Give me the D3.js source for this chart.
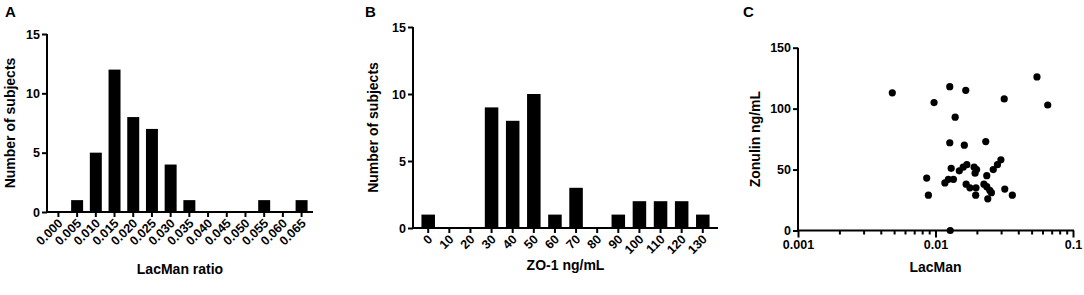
<!DOCTYPE html>
<html>
<head>
<meta charset="utf-8">
<script src="https://cdn.jsdelivr.net/npm/d3@7"></script>
<style>
  html, body { margin: 0; padding: 0; background: #fff; }
  svg { display: block; font-family: "Liberation Sans", Arial, sans-serif; font-weight: bold; }
</style>
</head>
<body>
<svg id="chart" width="1084" height="295"></svg>
<script>
/* Histograms (A, B) + log-x scatter (C) */

// A — LacMan ratio histogram
const lacBins   = ['0.000','0.005','0.010','0.015','0.020','0.025','0.030','0.035','0.040','0.045','0.050','0.055','0.060','0.065'];
const lacCounts = [0, 1, 5, 12, 8, 7, 4, 1, 0, 0, 0, 1, 0, 1];

// B — ZO-1 histogram
const zoBins   = ['0','10','20','30','40','50','60','70','80','90','100','110','120','130'];
const zoCounts = [1, 0, 0, 9, 8, 10, 1, 3, 0, 1, 2, 2, 2, 1];

const countTicks = [0, 5, 10, 15];

// C — LacMan vs zonulin
const scLac = [0.00485, 0.0127, 0.0166, 0.00976, 0.0139, 0.0547, 0.0316, 0.0655,
               0.0127, 0.0162, 0.0232, 0.0299, 0.0282, 0.0263, 0.0236, 0.0130,
               0.0169, 0.0159, 0.0149, 0.0191, 0.0199, 0.0194, 0.00863, 0.00888,
               0.0135, 0.0124, 0.0117, 0.0167, 0.0178, 0.0197, 0.0196, 0.0225,
               0.0236, 0.0248, 0.0255, 0.0240, 0.0319, 0.0362, 0.0128];
const scZon = [113, 118, 115, 105, 93, 126, 108, 103,
               72, 70, 73, 58, 54, 50, 45, 51,
               54, 52, 49, 52, 50, 47, 43, 29,
               42, 42, 39, 38, 35, 35, 29, 38,
               36, 33, 31, 26, 34, 29, 0];
const zonTicks = [0, 50, 100, 150];
const lacLogMajor = [0.001, 0.01, 0.1];

const svg = d3.select('#chart');
const AX_W = 2;
const TICK_FS = 12.5;

function styleAxis(g) {
  g.select('.domain').attr('stroke', '#000').attr('stroke-width', AX_W);
  g.selectAll('.tick line').attr('stroke', '#000').attr('stroke-width', AX_W);
  g.selectAll('.tick text').attr('font-size', TICK_FS).attr('font-weight', 'bold')
    .attr('font-family', '"Liberation Sans", Arial, sans-serif').attr('fill', '#000');
}

function histogram(opt) {
  const x = d3.scaleBand().domain(opt.bins).range([opt.x0, opt.x1])
    .paddingInner(0.36).paddingOuter(opt.padOuter);
  const y = d3.scaleLinear().domain([0, 15]).range([opt.y0, opt.y1]);

  // bars
  svg.append('g').selectAll('rect').data(opt.counts).join('rect')
    .attr('x', (d, i) => x(opt.bins[i]))
    .attr('width', x.bandwidth())
    .attr('y', d => y(d))
    .attr('height', d => opt.y0 - y(d))
    .attr('fill', '#000');

  // x axis
  const gx = svg.append('g').attr('transform', `translate(0,${opt.y0})`)
    .call(d3.axisBottom(x).tickSize(5).tickSizeOuter(0));
  styleAxis(gx);
  gx.select('.domain').attr('d', `M${opt.x0 - 1},0H${opt.x1}`);
  gx.selectAll('.tick text')
    .attr('text-anchor', 'end')
    .attr('dy', 0)
    .attr('transform', 'translate(5,12) rotate(-45)')
    .attr('y', 0).attr('x', 0);

  // y axis
  const gy = svg.append('g').attr('transform', `translate(${opt.x0},0)`)
    .call(d3.axisLeft(y).tickValues(countTicks).tickSize(5).tickSizeOuter(0).tickPadding(2));
  styleAxis(gy);
  gy.select('.domain').attr('d', `M0,${opt.y1}V${opt.y0 + 1}`);

  // titles
  svg.append('text').attr('x', (opt.x0 + opt.x1) / 2).attr('y', opt.xTitleY)
    .attr('text-anchor', 'middle').attr('font-size', 14).text(opt.xTitle);
  svg.append('text')
    .attr('transform', `translate(${opt.yTitleX},${(opt.y0 + opt.y1) / 2}) rotate(-90)`)
    .attr('text-anchor', 'middle').attr('font-size', 14).text('Number of subjects');
  svg.append('text').attr('x', opt.letterX).attr('y', 17)
    .attr('font-size', 15).text(opt.letter);
}

histogram({
  bins: lacBins, counts: lacCounts, padOuter: 0.29,
  x0: 47, x1: 313, y0: 212, y1: 34,
  xTitle: 'LacMan ratio', xTitleY: 274, yTitleX: 15,
  letter: 'A', letterX: 5
});

histogram({
  bins: zoBins, counts: zoCounts, padOuter: 0.40,
  x0: 413, x1: 718, y0: 228, y1: 27,
  xTitle: 'ZO-1 ng/mL', xTitleY: 270, yTitleX: 378,
  letter: 'B', letterX: 365
});

// ── Panel C ──
(function () {
  const x0 = 798, x1 = 1073, y0 = 230.5, y1 = 47.7;
  const x = d3.scaleLog().domain([0.001, 0.1]).range([x0, x1]);
  const y = d3.scaleLinear().domain([0, 150]).range([y0, y1]);

  const minor = [];
  [0.001, 0.01].forEach(b => { for (let k = 2; k <= 9; k++) minor.push(b * k); });
  const allTicks = lacLogMajor.concat(minor);

  const gx = svg.append('g').attr('transform', `translate(0,${y0})`)
    .call(d3.axisBottom(x).tickValues(allTicks).tickSize(4).tickSizeOuter(0).tickPadding(6)
      .tickFormat(d => lacLogMajor.includes(d) ? String(d) : ''));
  styleAxis(gx);
  gx.select('.domain').attr('d', `M${x0 - 1},0H${x1 + 1}`);
  gx.selectAll('.tick').filter(d => lacLogMajor.includes(d)).select('line').attr('y2', 7);

  const gy = svg.append('g').attr('transform', `translate(${x0},0)`)
    .call(d3.axisLeft(y).tickValues(zonTicks).tickSize(5).tickSizeOuter(0).tickPadding(2));
  styleAxis(gy);
  gy.select('.domain').attr('d', `M0,${y1}V${y0 + 1}`);

  svg.append('g').selectAll('circle').data(scLac).join('circle')
    .attr('cx', d => x(d))
    .attr('cy', (d, i) => y(scZon[i]))
    .attr('r', 3.6)
    .attr('fill', '#000');

  svg.append('text').attr('x', (x0 + x1) / 2).attr('y', 272)
    .attr('text-anchor', 'middle').attr('font-size', 14).text('LacMan');
  svg.append('text')
    .attr('transform', `translate(760,${(y0 + y1) / 2}) rotate(-90)`)
    .attr('text-anchor', 'middle').attr('font-size', 14).text('Zonulin ng/mL');
  svg.append('text').attr('x', 743).attr('y', 17).attr('font-size', 15).text('C');
})();
</script>
</body>
</html>
